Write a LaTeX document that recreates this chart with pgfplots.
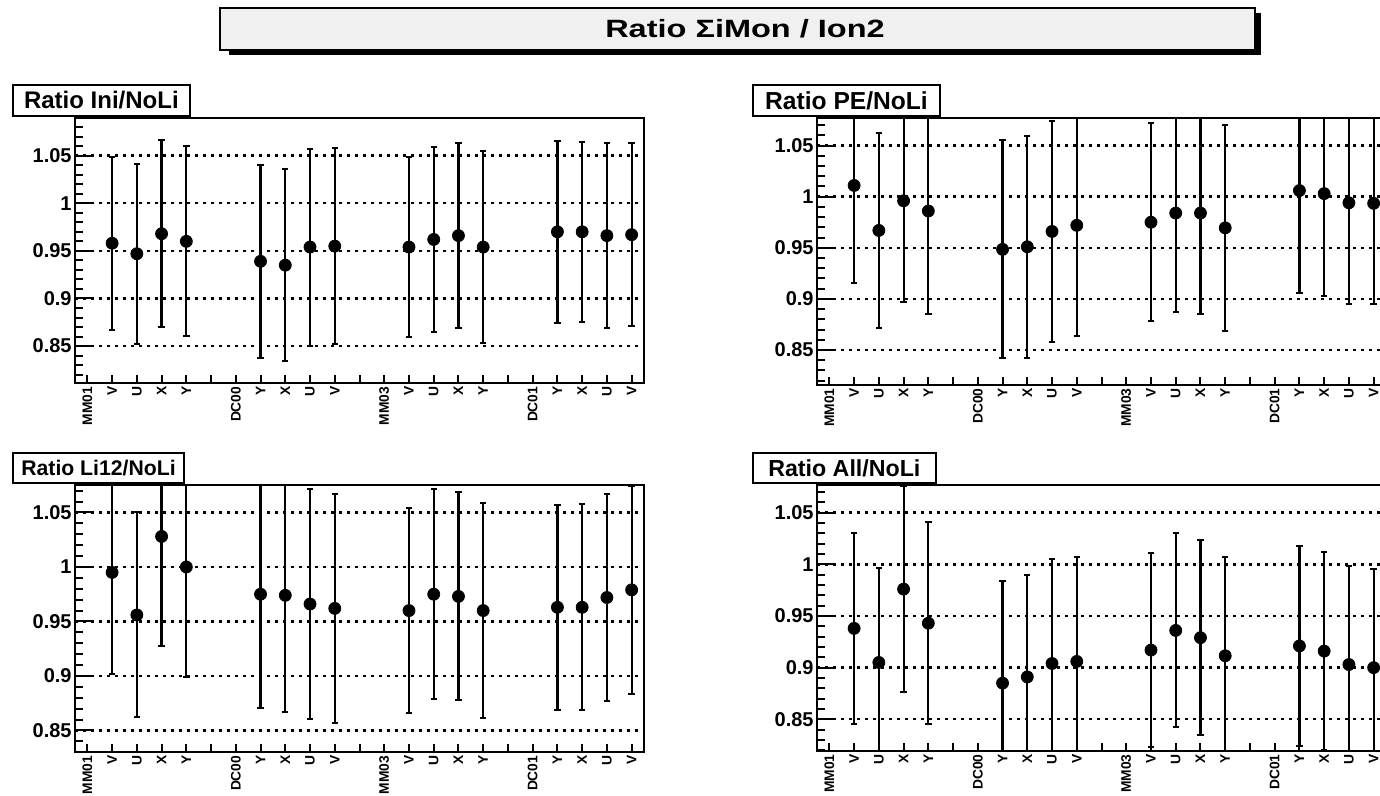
\documentclass[border=0pt]{standalone}
\usepackage{pgfplots}
\usepackage{pgfplotstable}
\pgfplotsset{compat=1.18}
\usepackage{fontspec}
\setmainfont{Liberation Sans}

\definecolor{paneltitlebg}{RGB}{240,240,240}

% ratio value and its symmetric uncertainty, one row per detector plane
\pgfplotstableread{
x y e
1  0.958  0.0910
2  0.947  0.0946
3  0.968  0.0984
4  0.960  0.0998
7  0.939  0.1017
8  0.935  0.1010
9  0.954  0.1035
10 0.955  0.1028
13 0.954  0.0945
14 0.962  0.0972
15 0.966  0.0974
16 0.954  0.1006
19 0.970  0.0954
20 0.970  0.0948
21 0.966  0.0972
22 0.967  0.0960
}\ratioIni

\pgfplotstableread{
x y e
1  1.011  0.0955
2  0.967  0.0954
3  0.996  0.0995
4  0.986  0.1008
7  0.9485 0.1065
8  0.951  0.1085
9  0.966  0.1080
10 0.972  0.1080
13 0.975  0.0970
14 0.984  0.0970
15 0.984  0.0984
16 0.9695 0.1006
19 1.006  0.1004
20 1.003  0.0998
21 0.994  0.0988
22 0.9935 0.0980
}\ratioPE

\pgfplotstableread{
x y e
1  0.995  0.0930
2  0.956  0.0940
3  1.028  0.1009
4  1.000  0.1009
7  0.975  0.1043
8  0.974  0.1070
9  0.966  0.1054
10 0.962  0.1049
13 0.960  0.0937
14 0.975  0.0962
15 0.973  0.0954
16 0.960  0.0983
19 0.963  0.0939
20 0.963  0.0945
21 0.972  0.0949
22 0.979  0.0957
}\ratioLi

\pgfplotstableread{
x y e
1  0.938  0.0928
2  0.905  0.0910
3  0.976  0.0995
4  0.943  0.0977
7  0.885  0.0993
8  0.891  0.0990
9  0.904  0.1016
10 0.906  0.1010
13 0.917  0.0942
14 0.936  0.0939
15 0.929  0.0943
16 0.9115 0.0953
19 0.921  0.0967
20 0.916  0.0960
21 0.903  0.0954
22 0.900  0.0953
}\ratioAll

\pgfplotsset{
  ratiopanel/.style={
    scale only axis,
    width=284.5pt,
    xmin=-0.5, xmax=22.5,
    xtick={0,...,22},
    xticklabels={MM01,V,U,X,Y,,DC00,Y,X,U,V,,MM03,V,U,X,Y,,DC01,Y,X,U,V},
    xticklabel style={rotate=90, anchor=east, inner sep=1.5pt,
      font=\fontsize{6.9}{7}\selectfont\bfseries},
    ytick={0.85,0.9,0.95,1,1.05},
    yticklabels={0.85,0.9,0.95,1,1.05},
    minor ytick={0.80,0.81,...,1.10},
    yticklabel style={inner sep=1.5pt, font=\fontsize{10}{10}\selectfont\bfseries},
    tick pos=left,
    tick align=inside,
    major tick length=4pt,
    minor tick length=4pt,
    major y tick style={/pgfplots/major tick length=8pt},
    tick style={black, line width=1pt},
    axis line style={line width=1.1pt},
    ymajorgrids,
    major grid style={black, line width=1.2pt, dash pattern=on 1.3pt off 2.7pt},
    clip=true,
  },
  ratiopoints/.style={
    only marks, mark=*, mark size=3pt,
    mark options={black, fill=black},
    black,
    error bars/.cd,
      y dir=both, y explicit,
      error bar style={line width=1.1pt, black},
      error mark options={rotate=90, line width=1pt, mark size=1.6pt, black},
  },
}

\begin{document}
\begin{tikzpicture}
\path[use as bounding box] (0pt,0pt) rectangle (690pt,398pt);

% canvas title with drop shadow
\fill[black] (114.5pt,370.5pt) rectangle (630.5pt,391.5pt);
\draw[line width=0.8pt, fill=paneltitlebg] (110pt,373pt) rectangle (627.5pt,393.85pt);
\node at (372.5pt,383.4pt) {\scalebox{1.3}[1]{\fontsize{12.5}{13}\selectfont\bfseries Ratio ΣiMon / Ion2}};

% top left
\begin{axis}[ratiopanel, height=132.8pt, ymin=0.8109, ymax=1.0899,
  at={(37.5pt,206.35pt)}, anchor=south west]
\addplot[ratiopoints] table[x=x, y=y, y error=e] {\ratioIni};
\end{axis}

% top right
\begin{axis}[ratiopanel, height=133.35pt, ymin=0.8158, ymax=1.0767,
  at={(408.5pt,205.5pt)}, anchor=south west]
\addplot[ratiopoints] table[x=x, y=y, y error=e] {\ratioPE};
\end{axis}

% bottom left
\begin{axis}[ratiopanel, height=133.65pt, ymin=0.830, ymax=1.0752,
  at={(37.5pt,21.85pt)}, anchor=south west]
\addplot[ratiopoints] table[x=x, y=y, y error=e] {\ratioLi};
\end{axis}

% bottom right
\begin{axis}[ratiopanel, height=133pt, ymin=0.8193, ymax=1.0768,
  at={(408.5pt,22.5pt)}, anchor=south west]
\addplot[ratiopoints] table[x=x, y=y, y error=e] {\ratioAll};
\end{axis}

% panel labels
\tikzset{paneltitle/.style={draw, line width=1pt, fill=white, anchor=north west,
  inner sep=0pt, font=\bfseries}}
\node[paneltitle, minimum width=88.65pt, minimum height=15.5pt] at (5.85pt,356pt)
  {\fontsize{12}{12}\selectfont Ratio Ini/NoLi};
\node[paneltitle, minimum width=93.8pt, minimum height=15.5pt] at (375.85pt,356pt)
  {\fontsize{12.3}{12}\selectfont Ratio PE/NoLi};
\node[paneltitle, minimum width=85.8pt, minimum height=15.3pt] at (5.85pt,172.15pt)
  {\fontsize{10.6}{11}\selectfont Ratio Li12/NoLi};
\node[paneltitle, minimum width=91.65pt, minimum height=15.3pt] at (375.85pt,172.15pt)
  {\fontsize{11.6}{12}\selectfont Ratio All/NoLi};
\end{tikzpicture}
\end{document}
